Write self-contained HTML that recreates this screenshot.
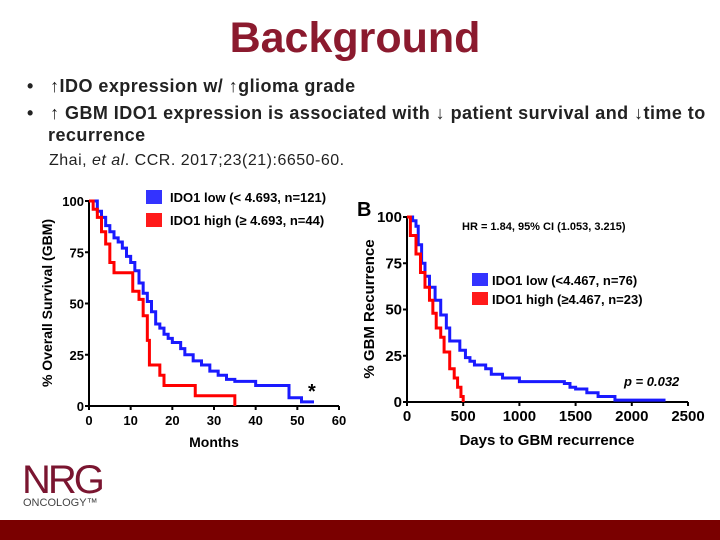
<!DOCTYPE html>
<html><head><meta charset="utf-8"><style>
body{margin:0;width:720px;height:540px;overflow:hidden;background:#fff;font-family:"Liberation Sans",sans-serif;position:relative}
.t{position:absolute;white-space:nowrap}
.b{font-size:18px;font-weight:bold;color:#222;letter-spacing:0.45px}
</style></head><body>
<div class="t" style="left:0;width:710px;text-align:center;top:14px;font-size:43px;font-weight:bold;color:#8b1a2e">Background</div>
<div class="t b" style="left:27px;top:76px">•&nbsp;&nbsp;&nbsp;↑IDO expression w/ ↑glioma grade</div>
<div class="t b" style="left:27px;top:103px">•&nbsp;&nbsp;&nbsp;↑ GBM IDO1 expression is associated with ↓ patient survival and ↓time to</div>
<div class="t b" style="left:48px;top:125px">recurrence</div>
<div class="t" style="left:49px;top:152px;font-size:16px;letter-spacing:0.5px;color:#222">Zhai, <i>et al</i>. CCR. 2017;23(21):6650-60.</div>
<svg id="chart" width="720" height="540" style="position:absolute;left:0;top:0" font-family="Liberation Sans, sans-serif"></svg>
<div class="t" style="left:22px;top:458px;font-size:40px;color:#7a1530;letter-spacing:-3px">NRG</div>
<div class="t" style="left:23px;top:497px;font-size:11px;color:#444">ONCOLOGY™</div>
<div style="position:absolute;left:0;top:520px;width:720px;height:20px;background:#7a0000"></div>
<script>
const aMonthsBlue=[0,2,3,4,5,6,7,8,9,10,11,12,13,14,15,16,17,18,19,20,22,23,25,27,29,31,33,35,40,47,48,51,54];
const aPctBlue=[100,95,92,88,85,82,80,77,73,70,66,60,55,51,46,40,38,35,33,31,28,25,22,20,17,15,13,12,10,10,4,2,2];
const aMonthsRed=[0,1,2,3,4,5,6,10,10.5,12,13,14,14.5,16,17,18,25,25.5,35,35];
const aPctRed=[100,96,92,85,79,70,65,65,56,52,44,32,20,20,15,10,10,5,5,0];
const aXTicks=[0,10,20,30,40,50,60];
const aYTicks=[0,25,50,75,100];
const bDaysBlue=[0,50,80,100,130,160,200,250,300,350,380,450,470,520,560,600,700,750,850,1000,1400,1450,1500,1600,1700,1850,2300];
const bPctBlue=[100,98,95,85,75,68,62,55,47,40,33,33,28,24,22,20,18,15,13,11,10,8,7,5,3,1,1];
const bDaysRed=[0,30,80,120,160,200,230,260,300,330,380,420,450,480,500];
const bPctRed=[100,90,80,70,62,55,48,40,35,27,18,13,8,3,0];
const bXTicks=[0,500,1000,1500,2000,2500];
const bYTicks=[0,25,50,75,100];
const svg=document.getElementById('chart');
const NS='http://www.w3.org/2000/svg';
function mk(tag,attrs,txt){const e=document.createElementNS(NS,tag);for(const k in attrs)e.setAttribute(k,attrs[k]);if(txt!==undefined)e.textContent=txt;svg.appendChild(e);return e;}
function stepPath(xs,ys,sx,sy){let d='M'+sx(xs[0])+','+sy(ys[0]);for(let i=1;i<xs.length;i++){d+=' H'+sx(xs[i])+' V'+sy(ys[i]);}return d;}
function chart(p,prefix){
  const sx=v=>p.x0+(v-p.xmin)/(p.xmax-p.xmin)*(p.x1-p.x0);
  const sy=v=>p.y0-(v/100)*(p.y0-p.y1);
  let e=mk('path',{d:'M'+p.x0+','+p.y1+' V'+p.y0+' H'+p.x1,stroke:'#000','stroke-width':2,fill:'none'});
  
  
  p.xt.forEach(v=>{const t=mk('line',{x1:sx(v),x2:sx(v),y1:p.y0,y2:p.y0+4,stroke:'#000','stroke-width':2});
    
    
    const l=mk('text',{x:sx(v),y:p.y0+19,'text-anchor':'middle','font-size':p.fs,'font-weight':'bold'},v);
    
    });
  p.yt.forEach(v=>{const t=mk('line',{x1:p.x0-4,x2:p.x0,y1:sy(v),y2:sy(v),stroke:'#000','stroke-width':2});
    
    
    const l=mk('text',{x:p.x0-5,y:sy(v)+5,'text-anchor':'end','font-size':p.fs,'font-weight':'bold'},v);
    
    });
  const b=mk('path',{d:stepPath(p.bx,p.by,sx,sy),stroke:'#1a1aff','stroke-width':3,fill:'none'});
  
  
  const r=mk('path',{d:stepPath(p.rx,p.ry,sx,sy),stroke:'#ff0000','stroke-width':3,fill:'none'});
  
  
}
chart({x0:89,x1:339,y0:406,y1:201,xmin:0,xmax:60,xt:aXTicks,yt:aYTicks,bx:aMonthsBlue,by:aPctBlue,rx:aMonthsRed,ry:aPctRed,fs:13},'chart-a');
chart({x0:407,x1:688,y0:402,y1:217,xmin:0,xmax:2500,xt:bXTicks,yt:bYTicks,bx:bDaysBlue,by:bPctBlue,rx:bDaysRed,ry:bPctRed,fs:15},'chart-b');
function txt(name,a,s){const e=mk('text',a,s);return e;}
txt('chart-a-x-title',{x:214,y:447,'text-anchor':'middle','font-size':14,'font-weight':'bold'},'Months');
txt('chart-a-y-title',{x:0,y:0,transform:'translate(52,303) rotate(-90)','text-anchor':'middle','font-size':14,'font-weight':'bold'},'% Overall Survival (GBM)');
txt('chart-a-asterisk',{x:308,y:398,'font-size':20,'font-weight':'bold'},'*');
let r1=mk('rect',{x:146,y:190,width:16,height:14,fill:'#3333ff'});
let r2=mk('rect',{x:146,y:213,width:16,height:14,fill:'#ff1a1a'});
txt('chart-a-legend-low',{x:170,y:202,'font-size':13,'font-weight':'bold'},'IDO1 low (< 4.693, n=121)');
txt('chart-a-legend-high',{x:170,y:225,'font-size':13,'font-weight':'bold'},'IDO1 high (≥ 4.693, n=44)');
txt('chart-b-label',{x:357,y:216,'font-size':20,'font-weight':'bold'},'B');
txt('chart-b-x-title',{x:547,y:445,'text-anchor':'middle','font-size':15,'font-weight':'bold'},'Days to GBM recurrence');
txt('chart-b-y-title',{x:0,y:0,transform:'translate(374,309) rotate(-90)','text-anchor':'middle','font-size':15,'font-weight':'bold'},'% GBM Recurrence');
txt('chart-b-hr',{x:462,y:230,'font-size':11,'font-weight':'bold'},'HR = 1.84, 95% CI (1.053, 3.215)');
txt('chart-b-p',{x:624,y:386,'font-size':13,'font-weight':'bold','font-style':'italic'},'p = 0.032');
let r3=mk('rect',{x:472,y:273,width:16,height:13,fill:'#3333ff'});
let r4=mk('rect',{x:472,y:292,width:16,height:13,fill:'#ff1a1a'});
txt('chart-b-legend-low',{x:492,y:285,'font-size':13,'font-weight':'bold'},'IDO1 low   (<4.467, n=76)');
txt('chart-b-legend-high',{x:492,y:304,'font-size':13,'font-weight':'bold'},'IDO1 high (≥4.467, n=23)');
</script>
</body></html>
